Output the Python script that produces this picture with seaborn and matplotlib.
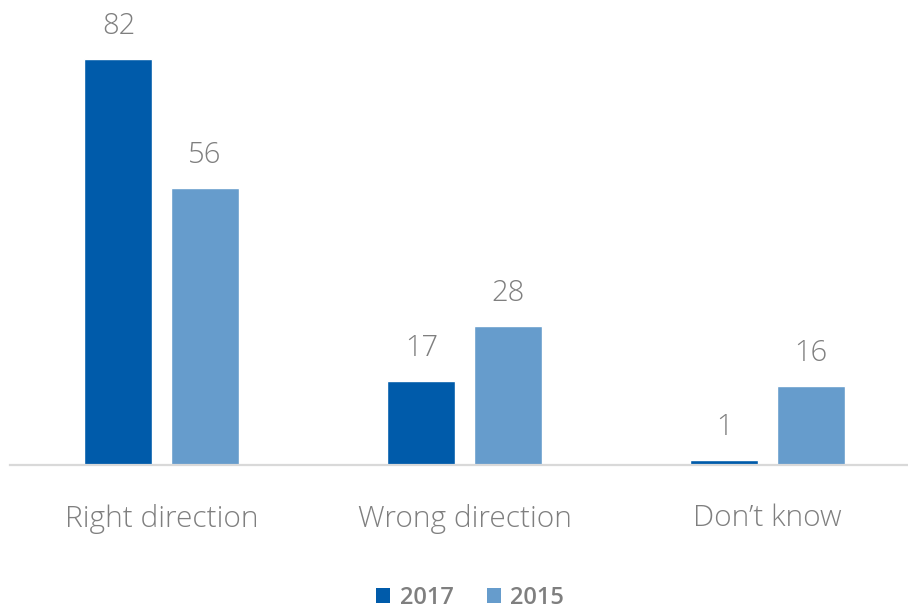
import matplotlib
matplotlib.use("Agg")
import matplotlib.pyplot as plt
from matplotlib.patches import Patch
import seaborn as sns
import pandas as pd

categories = ["Right direction", "Wrong direction", "Don\u2019t know"]
years = ["2017", "2015"]
values_2017 = [82, 17, 1]
values_2015 = [56, 28, 16]

colors = {"2017": "#005BAA", "2015": "#669CCC"}
text_gray = "#7F7F7F"

df = pd.DataFrame({
    "category": categories * 2,
    "year": ["2017"] * 3 + ["2015"] * 3,
    "value": values_2017 + values_2015,
})

sns.set_style("white")
plt.rcParams["font.family"] = ["Open Sans", "DejaVu Sans"]

fig = plt.figure(figsize=(9.08, 6.12), dpi=100)
ax = fig.add_axes([10 / 908, 1 - 465 / 612, 898 / 908, 465 / 612])

sns.barplot(data=df, x="category", y="value", hue="year", hue_order=years,
            order=categories, palette=colors, width=0.568, gap=0.21,
            saturation=1, legend=False, ax=ax)

for cont in ax.containers:
    ax.bar_label(cont, fmt="%d", padding=13, fontsize=21, color=text_gray,
                 fontweight="light")

ax.set_xlim(-0.5, 2.5 - 11 / 303)
ax.set_ylim(0, 94)
ax.set_xlabel("")
ax.set_ylabel("")
ax.set_yticks([])
for s in ["top", "right", "left"]:
    ax.spines[s].set_visible(False)
ax.spines["bottom"].set_color("#D9D9D9")
ax.spines["bottom"].set_linewidth(1.6)
ax.tick_params(axis="x", length=0, pad=28, labelsize=21.5, labelcolor=text_gray)
for lbl in ax.get_xticklabels():
    lbl.set_fontweight("light")

handles = [Patch(facecolor=colors[y], edgecolor="none", label=y) for y in years]
fig.legend(handles=handles, loc="center", bbox_to_anchor=(470 / 908, 1 - 598 / 612),
           ncol=2, frameon=False, labelcolor=text_gray,
           handlelength=0.6, handleheight=0.6, handletextpad=0.4,
           columnspacing=1.4, prop={"family": ["Open Sans", "DejaVu Sans"],
                                    "weight": "semibold", "size": 17})

fig.savefig("out.png", dpi=100)
